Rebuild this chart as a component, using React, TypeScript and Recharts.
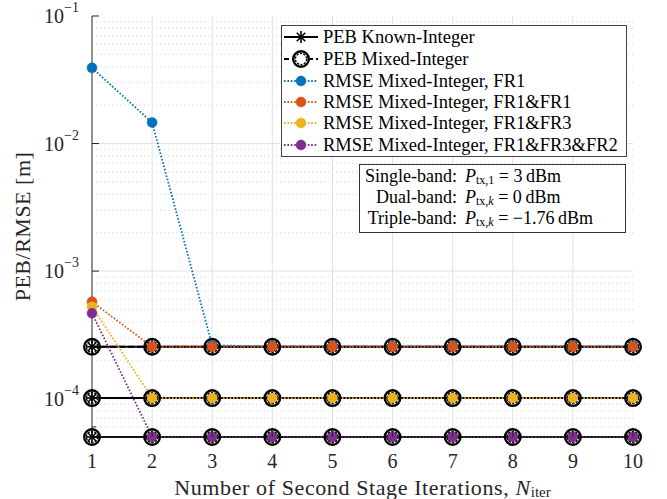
import React from 'react';
import { LineChart, Line, XAxis, YAxis, ReferenceLine, Legend } from 'recharts';

const FONT = '"Liberation Serif", "Times New Roman", serif';
const AXIS = '#262626';

// iterations on the x axis
const iterations = [1, 2, 3, 4, 5, 6, 7, 8, 9, 10];

// PEB bounds (same for known / mixed integer)
const pebSingle = [2.55e-4, 2.55e-4, 2.55e-4, 2.55e-4, 2.55e-4, 2.55e-4, 2.55e-4, 2.55e-4, 2.55e-4, 2.55e-4];
const pebDual = [1.01e-4, 1.01e-4, 1.01e-4, 1.01e-4, 1.01e-4, 1.01e-4, 1.01e-4, 1.01e-4, 1.01e-4, 1.01e-4];
const pebTriple = [5.0e-5, 5.0e-5, 5.0e-5, 5.0e-5, 5.0e-5, 5.0e-5, 5.0e-5, 5.0e-5, 5.0e-5, 5.0e-5];

// RMSE curves
const rmseFR1 = [3.92e-2, 1.46e-2, 2.62e-4, 2.56e-4, 2.56e-4, 2.56e-4, 2.56e-4, 2.56e-4, 2.56e-4, 2.56e-4];
const rmseFR1FR1 = [5.75e-4, 2.55e-4, 2.55e-4, 2.55e-4, 2.55e-4, 2.55e-4, 2.55e-4, 2.55e-4, 2.55e-4, 2.55e-4];
const rmseFR1FR3 = [5.26e-4, 1.01e-4, 1.01e-4, 1.01e-4, 1.01e-4, 1.01e-4, 1.01e-4, 1.01e-4, 1.01e-4, 1.01e-4];
const rmseFR1FR3FR2 = [4.67e-4, 5.0e-5, 5.0e-5, 5.0e-5, 5.0e-5, 5.0e-5, 5.0e-5, 5.0e-5, 5.0e-5, 5.0e-5];

const majorY = [1e-4, 1e-3, 1e-2, 1e-1];
const majorExp = ['−4', '−3', '−2', '−1'];
const minorY = [
  6e-5, 7e-5, 8e-5, 9e-5,
  2e-4, 3e-4, 4e-4, 5e-4, 6e-4, 7e-4, 8e-4, 9e-4,
  2e-3, 3e-3, 4e-3, 5e-3, 6e-3, 7e-3, 8e-3, 9e-3,
  2e-2, 3e-2, 4e-2, 5e-2, 6e-2, 7e-2, 8e-2, 9e-2,
];
const gridX = [2, 3, 4, 5, 6, 7, 8, 9];

const legendLabels = [
  'PEB Known-Integer',
  'PEB Mixed-Integer',
  'RMSE Mixed-Integer, FR1',
  'RMSE Mixed-Integer, FR1&FR1',
  'RMSE Mixed-Integer, FR1&FR3',
  'RMSE Mixed-Integer, FR1&FR3&FR2',
];
const rmseColors = ['#0072BD', '#D95319', '#EDB120', '#7E2F8E'];

const data = iterations.map((it, i) => ({
  iter: it,
  pebS: pebSingle[i],
  pebD: pebDual[i],
  pebT: pebTriple[i],
  fr1: rmseFR1[i],
  fr1fr1: rmseFR1FR1[i],
  fr1fr3: rmseFR1FR3[i],
  fr1fr3fr2: rmseFR1FR3FR2[i],
}));

const Asterisk = ({ cx, cy }: any) => {
  const r = 6;
  const d = r * 0.707;
  return (
    <g stroke="#000" strokeWidth={1.6}>
      <line x1={cx - r} y1={cy} x2={cx + r} y2={cy} />
      <line x1={cx} y1={cy - r} x2={cx} y2={cy + r} />
      <line x1={cx - d} y1={cy - d} x2={cx + d} y2={cy + d} />
      <line x1={cx - d} y1={cy + d} x2={cx + d} y2={cy - d} />
    </g>
  );
};

// circle marker drawn with a dashed edge, like the dashed PEB line
const Ring = ({ cx, cy, fill = 'none' }: any) => (
  <g>
    <circle cx={cx} cy={cy} r={7.8} fill={fill} stroke="#000" strokeWidth={2.4} />
    <circle cx={cx} cy={cy} r={5.6} fill="none" stroke="#000" strokeWidth={1.4} strokeDasharray="2.2 1.3" />
  </g>
);

const Dot = ({ cx, cy, color }: any) => <circle cx={cx} cy={cy} r={5} fill={color} stroke={color} strokeWidth={0.5} />;

const LegendBox = () => {
  const rows = [12, 34, 56, 77, 98, 120];
  return (
    <svg width={346} height={132} style={{ display: 'block' }}>
      <rect x={0.5} y={0.5} width={345} height={131} fill="#fff" stroke="#444" strokeWidth={1} />
      {legendLabels.map((label, i) => {
        const y = rows[i];
        let sym;
        if (i === 0) {
          sym = (
            <g>
              <line x1={3} y1={y} x2={37} y2={y} stroke="#000" strokeWidth={2} />
              <Asterisk cx={20} cy={y} />
            </g>
          );
        } else if (i === 1) {
          sym = (
            <g>
              <line x1={3} y1={y} x2={37} y2={y} stroke="#000" strokeWidth={2} strokeDasharray="5 3" />
              <Ring cx={20} cy={y} fill="#fff" />
            </g>
          );
        } else {
          const c = rmseColors[i - 2];
          sym = (
            <g>
              <line x1={3} y1={y} x2={37} y2={y} stroke={c} strokeWidth={1.8} strokeDasharray="1.6 1.8" />
              <Dot cx={20} cy={y} color={c} />
            </g>
          );
        }
        return (
          <g key={label}>
            {sym}
            <text x={42} y={y} dominantBaseline="central" fontFamily={FONT} fontSize={18.5} fill="#000">
              {label}
            </text>
          </g>
        );
      })}
    </svg>
  );
};

const YTickLeft = ({ x, y, payload }: any) => {
  const v = payload.value;
  const mi = majorY.indexOf(v);
  const isMajor = mi >= 0;
  return (
    <g>
      <line x1={x} y1={y} x2={x + (isMajor ? 7 : 4)} y2={y} stroke={AXIS} strokeWidth={1} />
      {isMajor && (
        <text x={x - 13} y={y} textAnchor="end" dominantBaseline="central" fontFamily={FONT} fontSize={20} fill="#262626">
          10
          <tspan dy={-9} fontSize={14}>{majorExp[mi]}</tspan>
        </text>
      )}
    </g>
  );
};

const YTickRight = ({ x, y, payload }: any) => {
  const isMajor = majorY.indexOf(payload.value) >= 0;
  return <line x1={x} y1={y} x2={x - (isMajor ? 7 : 4)} y2={y} stroke={AXIS} strokeWidth={1} />;
};

const XTickBottom = ({ x, y, payload }: any) => (
  <g>
    <line x1={x} y1={y} x2={x} y2={y - 6} stroke={AXIS} strokeWidth={1} />
    <text x={x} y={y + 24} textAnchor="middle" dominantBaseline="central" fontFamily={FONT} fontSize={20} fill="#262626">
      {payload.value}
    </text>
  </g>
);

const XTickTop = ({ x, y }: any) => <line x1={x} y1={y} x2={x} y2={y + 6} stroke={AXIS} strokeWidth={1} />;

const XLabel = ({ viewBox }: any) => (
  <text
    x={viewBox.x + viewBox.width / 2}
    y={viewBox.y + 50}
    textAnchor="middle"
    dominantBaseline="central"
    fontFamily={FONT}
    fontSize={22}
    letterSpacing={0.6}
    fill="#262626"
  >
    Number of Second Stage Iterations,{' '}
    <tspan fontStyle="italic">N</tspan>
    <tspan fontSize={15} dy={5} letterSpacing={0}>iter</tspan>
  </text>
);

const YLabel = ({ viewBox }: any) => {
  const cx = 22;
  const cy = viewBox.y + viewBox.height / 2;
  return (
    <text
      x={cx}
      y={cy}
      transform={`rotate(-90 ${cx} ${cy})`}
      textAnchor="middle"
      dominantBaseline="central"
      fontFamily={FONT}
      fontSize={22}
      letterSpacing={0.5}
      fill="#262626"
    >
      PEB/RMSE [m]
    </text>
  );
};

const Annotation = () => {
  const rows = [
    { name: 'Single-band:', sub: 'tx,1', k: false, val: '3' },
    { name: 'Dual-band:', sub: 'tx,', k: true, val: '0' },
    { name: 'Triple-band:', sub: 'tx,', k: true, val: '−1.76' },
  ];
  return (
    <div style={{ position: 'absolute', left: 359, top: 164, width: 267, height: 69, background: '#fff', border: '1px solid #333', boxSizing: 'border-box' }}>
      <svg width={265} height={67} style={{ display: 'block' }}>
        {rows.map((r, i) => {
          const y = 11 + i * 21;
          return (
            <g key={r.name} fontFamily={FONT} fontSize={18} fill="#000">
              <text x={97} y={y} textAnchor="end" dominantBaseline="central">{r.name}</text>
              <text x={105} y={y} dominantBaseline="central">
                <tspan fontStyle="italic">P</tspan>
                <tspan fontSize={12} dy={4}>{r.sub}</tspan>
                {r.k && <tspan fontSize={12} fontStyle="italic">k</tspan>}
                <tspan dy={-4}>{' = '}{r.val}{'\u2009'}dBm</tspan>
              </text>
            </g>
          );
        })}
      </svg>
    </div>
  );
};

const pebKeys = ['pebS', 'pebD', 'pebT'];
const rmseKeys = ['fr1', 'fr1fr1', 'fr1fr3', 'fr1fr3fr2'];

export default function App() {
  return (
    <div style={{ position: 'absolute', left: 0, top: 0, width: 667, height: 499, background: '#fff' }}>
      <LineChart width={667} height={499} data={data} margin={{ top: 16, right: 34, bottom: 0, left: 0 }}>
        <XAxis
          dataKey="iter"
          type="number"
          domain={[1, 10]}
          ticks={iterations}
          height={62}
          tickSize={0}
          tickMargin={0}
          tick={<XTickBottom />}
          axisLine={{ stroke: AXIS }}
          label={<XLabel />}
        />
        <XAxis
          xAxisId="top"
          orientation="top"
          dataKey="iter"
          type="number"
          domain={[1, 10]}
          ticks={iterations}
          height={0}
          tickSize={0}
          tickMargin={0}
          tick={<XTickTop />}
          axisLine={{ stroke: AXIS }}
        />
        <YAxis
          scale="log"
          domain={[5e-5, 1e-1]}
          ticks={[...minorY, ...majorY]}
          width={92}
          tickSize={0}
          tickMargin={0}
          tick={<YTickLeft />}
          axisLine={{ stroke: AXIS }}
          label={<YLabel />}
        />
        <YAxis
          yAxisId="right"
          orientation="right"
          scale="log"
          domain={[5e-5, 1e-1]}
          ticks={[...minorY, ...majorY]}
          width={0}
          tickSize={0}
          tickMargin={0}
          tick={<YTickRight />}
          axisLine={{ stroke: AXIS }}
        />
        {minorY.map((v) => (
          <ReferenceLine key={`my-${v}`} y={v} stroke="#d4d4d4" strokeWidth={1} strokeDasharray="1 3" />
        ))}
        {majorY.slice(0, 3).map((v) => (
          <ReferenceLine key={`My-${v}`} y={v} stroke="#e2e2e2" strokeWidth={1} />
        ))}
        {gridX.map((v) => (
          <ReferenceLine key={`gx-${v}`} x={v} stroke="#e2e2e2" strokeWidth={1} />
        ))}
        {pebKeys.map((k) => (
          <Line
            key={`known-${k}`}
            dataKey={k}
            stroke="#000"
            strokeWidth={2}
            isAnimationActive={false}
            dot={(p: any) => <Asterisk key={`a-${k}-${p.index}`} cx={p.cx} cy={p.cy} />}
            activeDot={false}
          />
        ))}
        {pebKeys.map((k) => (
          <Line
            key={`mixed-${k}`}
            dataKey={k}
            stroke="#000"
            strokeWidth={2}
            strokeDasharray="6 3"
            isAnimationActive={false}
            dot={(p: any) => <Ring key={`r-${k}-${p.index}`} cx={p.cx} cy={p.cy} />}
            activeDot={false}
          />
        ))}
        {rmseKeys.map((k, i) => (
          <Line
            key={`rmse-${k}`}
            dataKey={k}
            stroke={rmseColors[i]}
            strokeWidth={1.8}
            strokeDasharray="1.6 1.8"
            isAnimationActive={false}
            dot={(p: any) => <Dot key={`d-${k}-${p.index}`} cx={p.cx} cy={p.cy} color={rmseColors[i]} />}
            activeDot={false}
          />
        ))}
        <Legend
          layout="vertical"
          align="center"
          verticalAlign="middle"
          content={() => <LegendBox />}
          wrapperStyle={{ left: 281, top: 25, width: 346, height: 132 }}
        />
      </LineChart>
      <Annotation />
    </div>
  );
}
